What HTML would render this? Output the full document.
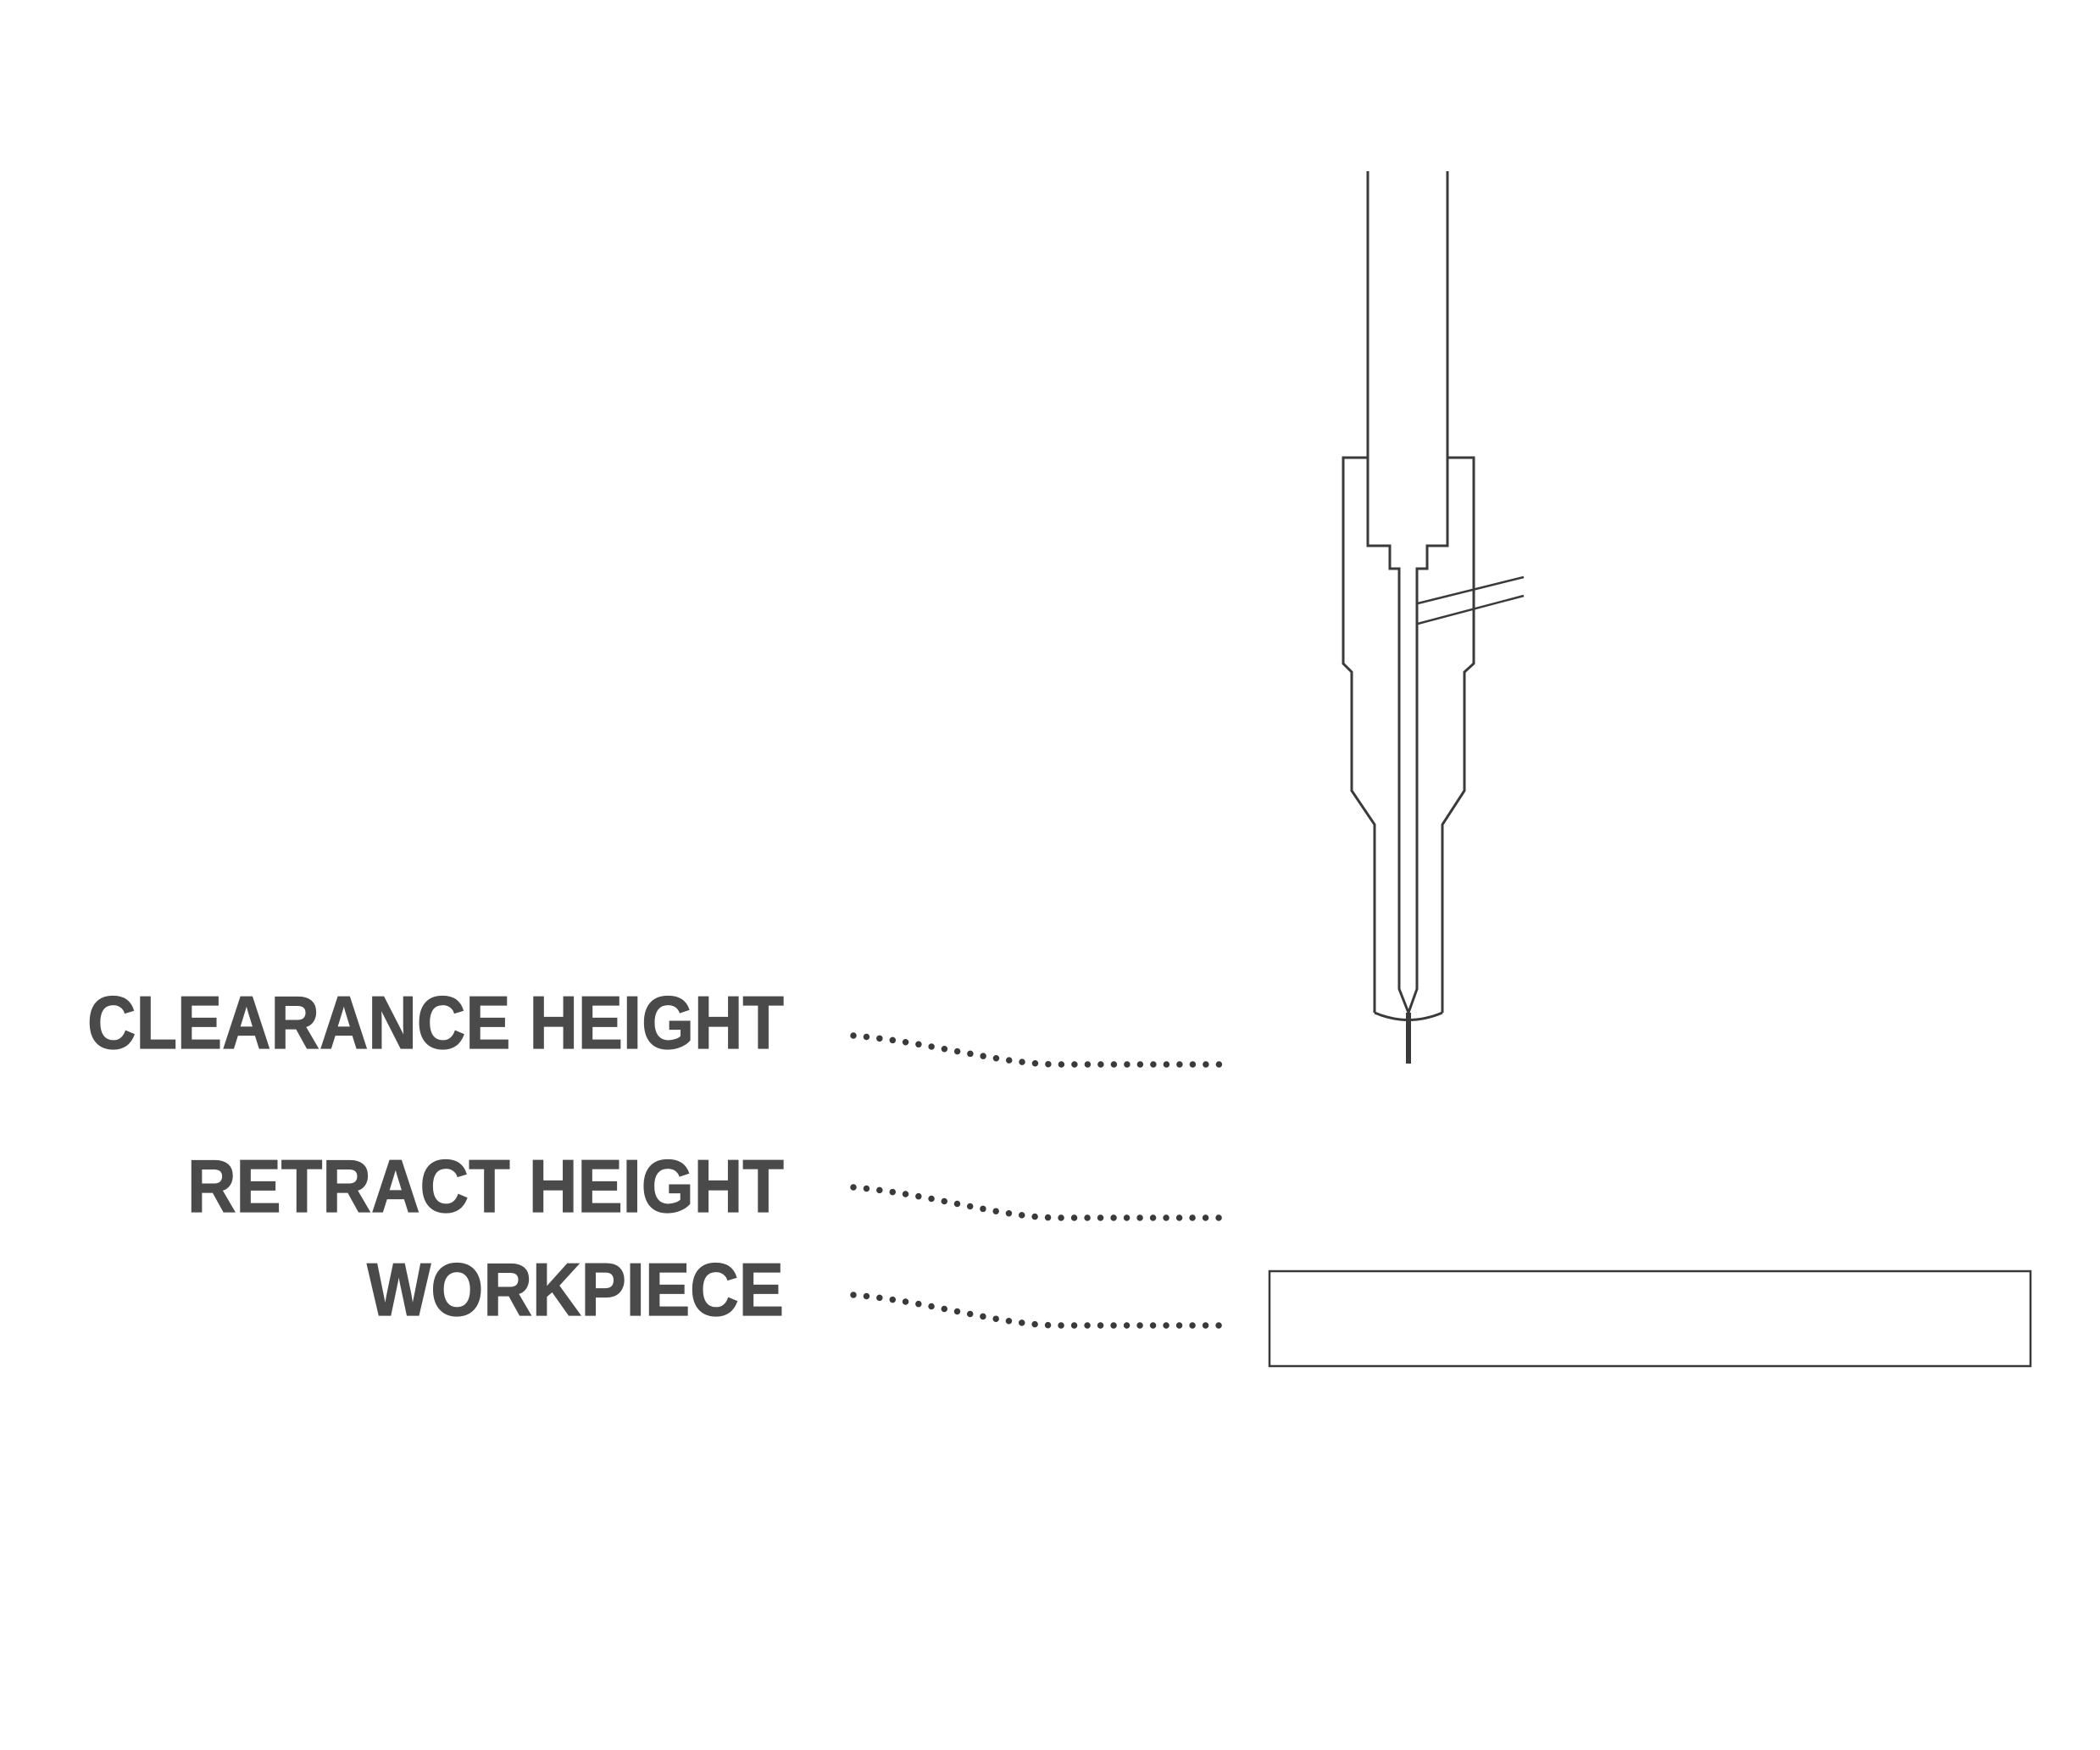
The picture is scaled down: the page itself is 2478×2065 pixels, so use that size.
<!DOCTYPE html>
<html><head><meta charset="utf-8"><style>
html,body{margin:0;padding:0;background:#fff;}
svg{display:block;}
</style></head><body>
<svg width="2478" height="2065" viewBox="0 0 2478 2065" xmlns="http://www.w3.org/2000/svg">
<rect width="2478" height="2065" fill="#fff"/>
<g fill="none" stroke="#3a3a3a" stroke-width="3" stroke-linejoin="miter">
  <polyline points="1614,202 1614,644 1640,644 1640,671 1651,671 1651,1167 1662,1195 1672,1167 1672,671 1684,671 1684,644 1708,644 1708,202"/>
  <polyline points="1614,540 1585,540 1585,783 1595,793 1595,933 1622,973 1622,1195"/>
  <polyline points="1708,540 1739,540 1739,783 1728,793 1728,933 1702,973 1702,1195"/>
  <path d="M1622,1195 Q1662,1212 1702,1195"/>
  <line x1="1673" y1="712" x2="1798" y2="681" stroke-width="2.5"/>
  <line x1="1673" y1="736" x2="1798" y2="703" stroke-width="2.5"/>
  <line x1="1662" y1="1195" x2="1662" y2="1255" stroke-width="6"/>
  <rect x="1498" y="1500" width="898" height="112" stroke-width="2.5"/>
</g>
<g fill="none" stroke="#3a3a3a" stroke-width="7.5" stroke-linecap="round" stroke-dasharray="0 15.5">
  <path d="M1007,1222 C1100,1230 1180,1256 1250,1256 L1452,1256"/>
  <path d="M1007,1401 C1100,1409 1180,1437 1250,1437 L1452,1437"/>
  <path d="M1007,1528 C1100,1536 1180,1564 1250,1564 L1452,1564"/>
</g>
<g fill="#4a4a4a" stroke="#4a4a4a" stroke-width="1.2" font-family="'Liberation Sans', sans-serif" font-weight="bold" font-size="88">
  <text x="103" y="1237" textLength="822" lengthAdjust="spacingAndGlyphs">CLEARANCE HEIGHT</text>
  <text x="221" y="1430" textLength="704" lengthAdjust="spacingAndGlyphs">RETRACT HEIGHT</text>
  <text x="433" y="1552" textLength="492" lengthAdjust="spacingAndGlyphs">WORKPIECE</text>
</g>
</svg>
</body></html>
